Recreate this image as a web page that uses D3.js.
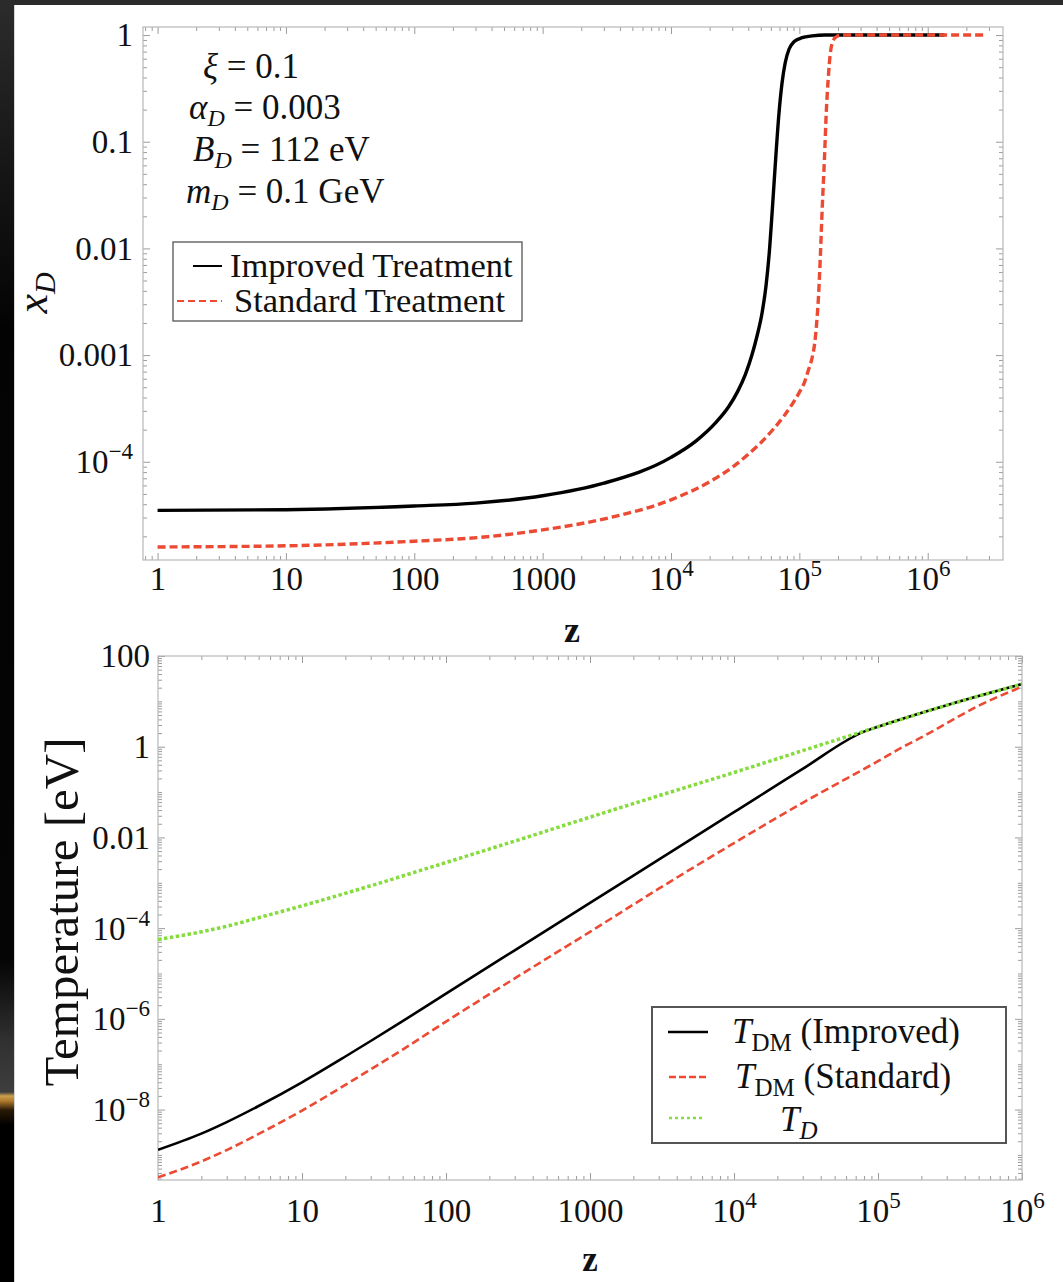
<!DOCTYPE html>
<html><head><meta charset="utf-8">
<script src="https://cdn.jsdelivr.net/npm/d3@7"></script>
<style>html,body{margin:0;padding:0;background:#000;}svg{display:block;}</style>
</head><body>
<svg id="c" width="1063" height="1282"></svg>
<script>
// ---------- DATA ----------
// Top panel: ionization fraction x_D vs z
const zImproved = [1, 10, 100, 300, 1000, 3000, 1e4, 1.58e4, 2.24e4, 2.82e4, 3.31e4, 3.8e4, 4.27e4, 4.68e4, 5.13e4, 5.5e4, 5.82e4, 6.17e4, 6.53e4, 6.92e4, 7.33e4, 7.76e4, 8.32e4, 9.12e4, 1.05e5, 1.26e5, 1.58e5, 1.35e6];
const xImproved = [3.5e-5, 3.55e-5, 3.85e-5, 4.1e-5, 4.8e-5, 6.3e-5, 1.1e-4, 1.58e-4, 2.34e-4, 3.3e-4, 4.57e-4, 6.6e-4, 1.0e-3, 1.51e-3, 2.51e-3, 4.47e-3, 8.9e-3, 0.024, 0.0676, 0.178, 0.355, 0.55, 0.74, 0.87, 0.944, 0.982, 1.0, 1.0];
const zStandard = [1, 10, 100, 316, 1000, 3162, 1e4, 2e4, 3.16e4, 3.98e4, 5.01e4, 6.31e4, 7.59e4, 8.91e4, 1e5, 1.1e5, 1.17e5, 1.26e5, 1.32e5, 1.36e5, 1.41e5, 1.46e5, 1.51e5, 1.57e5, 1.62e5, 1.68e5, 1.74e5, 1.82e5, 1.95e5, 2.14e5, 2.9e6];
const xStandard = [1.59e-5, 1.63e-5, 1.8e-5, 1.95e-5, 2.3e-5, 2.95e-5, 4.4e-5, 6.5e-5, 9.3e-5, 1.17e-4, 1.51e-4, 2.04e-4, 2.69e-4, 3.55e-4, 4.47e-4, 5.62e-4, 7.08e-4, 9.55e-4, 1.32e-3, 1.91e-3, 3.55e-3, 8.9e-3, 0.0251, 0.0708, 0.186, 0.398, 0.661, 0.871, 0.966, 1.0, 1.0];

// Bottom panel: temperatures [eV] vs z
const zTdmImp = [1, 2, 3, 5, 10, 20, 30, 50, 100, 300, 1000, 3000, 1e4, 3e4, 8e4, 1e5, 3e5, 1e6];
const tTdmImp = [1.3e-9, 2.95e-9, 5.3e-9, 1.2e-8, 4.0e-8, 1.48e-7, 3.25e-7, 8.9e-7, 3.6e-6, 3.25e-5, 3.6e-4, 3.25e-3, 0.036, 0.325, 2.15, 2.75, 8.2, 24];
const zTdmStd = [1, 2, 3, 5, 10, 20, 30, 50, 100, 300, 1000, 3000, 1e4, 3e4, 1e5, 1.5e5, 2e5, 3e5, 5e5, 1e6];
const tTdmStd = [3.2e-10, 7.2e-10, 1.28e-9, 2.9e-9, 9.5e-9, 3.5e-8, 7.7e-8, 2.1e-7, 8.7e-7, 7.8e-6, 8.3e-5, 7.4e-4, 7.5e-3, 0.058, 0.48, 1.0, 1.6, 3.3, 8.0, 21];
const zTD = [1, 2, 3, 5, 10, 30, 100, 300, 1000, 3000, 1e4, 3e4, 1e5, 3e5, 1e6];
const tTD = [5.6e-5, 8.3e-5, 1.1e-4, 1.7e-4, 3.1e-4, 8.6e-4, 2.8e-3, 8.3e-3, 0.028, 0.083, 0.27, 0.82, 2.75, 8.2, 24];

// Ticks
const topXTicks = [1, 10, 100, 1000, 1e4, 1e5, 1e6];
const topYTicks = [1, 0.1, 0.01, 0.001, 1e-4];
const botXTicks = [1, 10, 100, 1000, 1e4, 1e5, 1e6];
const botYTicks = [100, 1, 0.01, 1e-4, 1e-6, 1e-8];

// Texts
const paramLines = [["ξ", "", " = 0.1"], ["α", "D", " = 0.003"], ["B", "D", " = 112 eV"], ["m", "D", " = 0.1 GeV"]];
const topLegendLabels = ["Improved Treatment", "Standard Treatment"];
const botLegendLabels = [["T", "DM", " (Improved)"], ["T", "DM", " (Standard)"], ["T", "D", ""]];
const topYTitle = ["x", "D"];
const botYTitle = "Temperature [eV]";
const xTitle = "z";

// ---------- DRAWING ----------
const FONT = "'Liberation Serif','Times New Roman',Times,serif";
const RED = "#ec4a33", GREEN = "#86dc3c";
const svg = d3.select("#c");
const defs = svg.append("defs");

// background / slide frame
const lg = defs.append("linearGradient").attr("id", "leftStrip").attr("gradientUnits", "userSpaceOnUse")
  .attr("x1", 0).attr("y1", 0).attr("x2", 0).attr("y2", 1282);
[[0, "#2c2c2c"], [120, "#1c1c1c"], [330, "#030303"], [960, "#050505"], [1040, "#303030"], [1092, "#3e3e3e"],
 [1096, "#caa04e"], [1101, "#b07a2c"], [1110, "#2a1a06"], [1125, "#000"], [1282, "#000"]]
  .forEach(([o, c]) => lg.append("stop").attr("offset", o / 1282).attr("stop-color", c));
svg.append("rect").attr("width", 1063).attr("height", 1282).attr("fill", "#000");
svg.append("rect").attr("width", 1063).attr("height", 5).attr("fill", "#2b2b2b");
svg.append("rect").attr("width", 14).attr("height", 1282).attr("fill", "url(#leftStrip)");
svg.append("rect").attr("x", 14).attr("y", 5).attr("width", 1049).attr("height", 1277).attr("fill", "#fff");
svg.append("line").attr("x1", 14.5).attr("x2", 14.5).attr("y1", 5).attr("y2", 1282).attr("stroke", "#d6d6d6");

function minorTicks(domain, majors) {
  const lo = Math.min(...domain), hi = Math.max(...domain), out = [];
  for (let n = Math.floor(Math.log10(lo)); n <= Math.ceil(Math.log10(hi)); n++)
    for (let k = 1; k <= 9; k++) {
      const v = +(k * Math.pow(10, n)).toPrecision(6);
      if (v >= lo && v <= hi && !majors.some(m => Math.abs(m - v) / v < 1e-9)) out.push(v);
    }
  return out;
}
function styleTicks(s) { s.select(".domain").remove(); s.selectAll("line").attr("stroke", "#9c9c9c").attr("stroke-width", 1); }

function frameAxes(g, x, y, xMaj, yMaj, majLen, minLen) {
  const [x0, x1] = x.range(), [y0, y1] = y.range();
  const xMin = minorTicks(x.domain(), xMaj), yMin = minorTicks(y.domain(), yMaj);
  const sides = [[d3.axisBottom, `translate(0,${y0})`, x, true], [d3.axisTop, `translate(0,${y1})`, x, true],
                 [d3.axisLeft, `translate(${x0},0)`, y, false], [d3.axisRight, `translate(${x1},0)`, y, false]];
  sides.forEach(([ax, tr, sc, isX]) => {
    g.append("g").attr("transform", tr).call(ax(sc).tickValues(isX ? xMin : yMin).tickSize(-minLen).tickFormat("")).call(styleTicks);
    g.append("g").attr("transform", tr).call(ax(sc).tickValues(isX ? xMaj : yMaj).tickSize(-majLen).tickFormat("")).call(styleTicks);
  });
  g.append("rect").attr("x", x0).attr("y", y1).attr("width", x1 - x0).attr("height", y0 - y1)
    .attr("fill", "none").attr("stroke", "#b8b8b8").attr("stroke-width", 1.2);
}
function fillLabel(t, v) {
  t.text(null);
  const e = Math.round(Math.log10(v));
  if (Math.abs(e) >= 4) {
    t.append("tspan").text("10");
    t.append("tspan").attr("font-size", "0.7em").attr("dy", "-0.6em").text(e < 0 ? "\u2212" + (-e) : String(e));
  } else t.text(e >= 0 ? String(Math.round(Math.pow(10, e))) : v.toFixed(-e));
}
function xLabels(g, x, y0, ticks, off, size) {
  g.append("g").attr("transform", `translate(0,${y0})`)
    .call(d3.axisBottom(x).tickValues(ticks).tickSize(0).tickFormat(""))
    .call(s => s.select(".domain").remove())
    .selectAll(".tick text").attr("y", off).attr("dy", 0).attr("font-size", size).attr("font-family", FONT)
    .attr("fill", "#111").attr("text-anchor", "middle").each(function (d) { fillLabel(d3.select(this), d); });
}
function yLabels(g, y, x0, ticks, pad, size) {
  g.append("g").attr("transform", `translate(${x0},0)`)
    .call(d3.axisLeft(y).tickValues(ticks).tickSize(0).tickFormat(""))
    .call(s => s.select(".domain").remove())
    .selectAll(".tick text").attr("x", -pad).attr("dy", "0.33em").attr("font-size", size).attr("font-family", FONT)
    .attr("fill", "#111").attr("text-anchor", "end").each(function (d) { fillLabel(d3.select(this), d); });
}
function clip(id, x, y) {
  const [x0, x1] = x.range(), [y0, y1] = y.range();
  defs.append("clipPath").attr("id", id).append("rect").attr("x", x0).attr("y", y1).attr("width", x1 - x0).attr("height", y0 - y1);
}
const mkLine = (x, y) => d3.line().x(d => x(d[0])).y(d => y(d[1])).curve(d3.curveMonotoneX);
const zip = (a, b) => a.map((v, i) => [v, b[i]]);

// ===== TOP PANEL =====
const xTop = d3.scaleLog().domain([0.77, 3.86e6]).range([143, 1003]);
const yTop = d3.scaleLog().domain([1.2e-5, 1.19]).range([560, 27]);
const gTop = svg.append("g");
clip("clipTop", xTop, yTop);
frameAxes(gTop, xTop, yTop, topXTicks, topYTicks, 7, 4);
xLabels(gTop, xTop, 560, topXTicks, 30, 33);
yLabels(gTop, yTop, 143, topYTicks, 10, 33);
const lt = mkLine(xTop, yTop);
const cTop = gTop.append("g").attr("clip-path", "url(#clipTop)");
cTop.append("path").attr("d", lt(zip(zImproved, xImproved))).attr("fill", "none").attr("stroke", "#000").attr("stroke-width", 3.4);
cTop.append("path").attr("d", lt(zip(zStandard, xStandard))).attr("fill", "none").attr("stroke", RED).attr("stroke-width", 3.4).attr("stroke-dasharray", "8,4");

// parameter block
const pStart = [203, 189, 193, 186], pBase = [78, 119, 161, 203];
paramLines.forEach((p, i) => {
  const t = gTop.append("text").attr("x", pStart[i]).attr("y", pBase[i]).attr("font-family", FONT).attr("font-size", 35).attr("fill", "#111");
  t.append("tspan").attr("font-style", "italic").text(p[0]);
  if (p[1]) { t.append("tspan").attr("font-style", "italic").attr("font-size", 24).attr("dy", 7).text(p[1]); t.append("tspan").attr("dy", -7).text(p[2]); }
  else t.append("tspan").text(p[2]);
});
// top legend
gTop.append("rect").attr("x", 173).attr("y", 242).attr("width", 349).attr("height", 79).attr("fill", "#fff").attr("stroke", "#555").attr("stroke-width", 1.3);
gTop.append("line").attr("x1", 193).attr("x2", 222).attr("y1", 266).attr("y2", 266).attr("stroke", "#000").attr("stroke-width", 2);
gTop.append("line").attr("x1", 177).attr("x2", 222).attr("y1", 301).attr("y2", 301).attr("stroke", RED).attr("stroke-width", 2).attr("stroke-dasharray", "7,4");
gTop.append("text").attr("x", 230).attr("y", 277).attr("font-family", FONT).attr("font-size", 34.5).attr("fill", "#111").text(topLegendLabels[0]);
gTop.append("text").attr("x", 234).attr("y", 312).attr("font-family", FONT).attr("font-size", 34.5).attr("fill", "#111").text(topLegendLabels[1]);
// titles
gTop.append("text").attr("x", 572).attr("y", 642).attr("text-anchor", "middle").attr("font-family", FONT).attr("font-weight", "bold").attr("font-size", 36).attr("fill", "#111").text(xTitle);
const ytT = gTop.append("text").attr("transform", "translate(47,293) rotate(-90)").attr("text-anchor", "middle").attr("font-family", FONT).attr("font-size", 44).attr("font-style", "italic").attr("fill", "#111");
ytT.append("tspan").text(topYTitle[0]);
ytT.append("tspan").attr("font-size", 30).attr("dy", 8).text(topYTitle[1]);

// ===== BOTTOM PANEL =====
const xBot = d3.scaleLog().domain([1, 1e6]).range([158, 1022]);
const yBot = d3.scaleLog().domain([2.8e-10, 100]).range([1180, 656]);
const gBot = svg.append("g");
clip("clipBot", xBot, yBot);
frameAxes(gBot, xBot, yBot, botXTicks, botYTicks, 7, 4);
xLabels(gBot, xBot, 1180, botXTicks, 42, 33);
yLabels(gBot, yBot, 158, botYTicks, 8, 33);
const lb = mkLine(xBot, yBot);
const cBot = gBot.append("g").attr("clip-path", "url(#clipBot)");
cBot.append("path").attr("d", lb(zip(zTdmImp, tTdmImp))).attr("fill", "none").attr("stroke", "#000").attr("stroke-width", 2.6);
cBot.append("path").attr("d", lb(zip(zTdmStd, tTdmStd))).attr("fill", "none").attr("stroke", RED).attr("stroke-width", 2.6).attr("stroke-dasharray", "8,4");
cBot.append("path").attr("d", lb(zip(zTD, tTD))).attr("fill", "none").attr("stroke", GREEN).attr("stroke-width", 3.5).attr("stroke-dasharray", "3.5,2.5");

// bottom legend
gBot.append("rect").attr("x", 652).attr("y", 1007).attr("width", 354).attr("height", 136).attr("fill", "#fff").attr("stroke", "#555").attr("stroke-width", 2);
const legStyles = [{ c: "#000", d: null, x1: 668, x2: 708, y: 1032 }, { c: RED, d: "7,3", x1: 669, x2: 708, y: 1077 }, { c: GREEN, d: "3,3", x1: 669, x2: 705, y: 1118 }];
const legText = [{ x: 732, y: 1043, subStyle: "normal" }, { x: 735, y: 1088, subStyle: "normal" }, { x: 780, y: 1131, subStyle: "italic" }];
botLegendLabels.forEach((lab, i) => {
  const s = legStyles[i];
  const ln = gBot.append("line").attr("x1", s.x1).attr("x2", s.x2).attr("y1", s.y).attr("y2", s.y).attr("stroke", s.c).attr("stroke-width", 2.5);
  if (s.d) ln.attr("stroke-dasharray", s.d);
  const t = gBot.append("text").attr("x", legText[i].x).attr("y", legText[i].y).attr("font-family", FONT).attr("font-size", 35).attr("fill", "#111");
  t.append("tspan").attr("font-style", "italic").text(lab[0]);
  t.append("tspan").attr("font-style", legText[i].subStyle).attr("font-size", 25).attr("dy", 8).text(lab[1]);
  if (lab[2]) t.append("tspan").attr("dy", -8).text(lab[2]);
});
// titles
gBot.append("text").attr("x", 590).attr("y", 1271).attr("text-anchor", "middle").attr("font-family", FONT).attr("font-weight", "bold").attr("font-size", 35).attr("fill", "#111").text(xTitle);
gBot.append("text").attr("transform", "translate(78,912) rotate(-90)").attr("text-anchor", "middle").attr("font-family", FONT).attr("font-size", 49).attr("fill", "#111").text(botYTitle);
</script>
</body></html>
